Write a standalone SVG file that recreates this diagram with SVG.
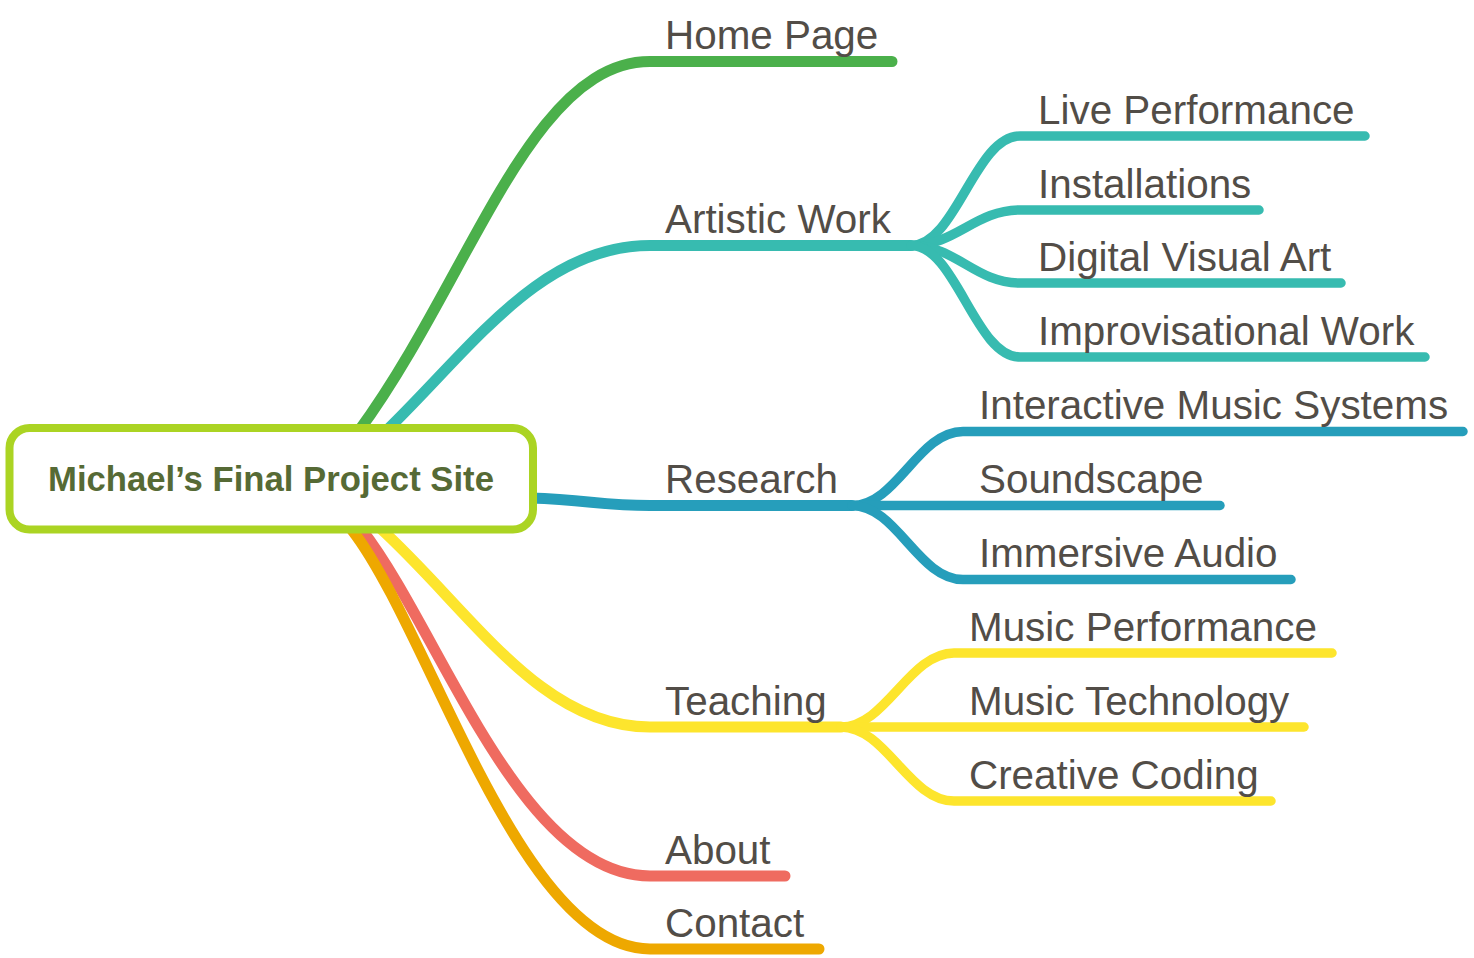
<svg xmlns="http://www.w3.org/2000/svg" width="1474" height="958" viewBox="0 0 1474 958">
<style>
.ln{fill:none;stroke-linecap:round;stroke-linejoin:round}
.main{stroke-width:11}
.sub{stroke-width:9.5}
.g{stroke:#4bb04b}.t{stroke:#37bbb0}.b{stroke:#269ebb}.y{stroke:#fde52d}.r{stroke:#ef6b60}.o{stroke:#eea800}
.lbl{font-family:"Liberation Sans",Arial,sans-serif;font-size:40.4px;fill:#524d47}
.ctr{font-family:"Liberation Sans",Arial,sans-serif;font-size:34.7px;font-weight:bold;fill:#566a35}
</style>
<rect width="1474" height="958" fill="#ffffff"/>
<g id="connectors">
<path class="ln main g" d="M358,432 C470,280 530,61.5 650,61.5 L892,61.5"/>
<path class="ln main t" d="M385,432 C470,350 540,245.5 650,245.5 L911,245.5"/>
<path class="ln main b" d="M530,498 C590,500 600,505.5 650,505.5 L852,505.5"/>
<path class="ln main y" d="M380,528 C470,610 540,727 650,727 L841,727"/>
<path class="ln main r" d="M362,530 C440,630 520,876 650,876 L785,876"/>
<path class="ln main o" d="M352,530 C430,630 520,949 650,949 L819,949"/>
<path class="ln sub t" d="M911,245.5 C956,245.5 975,136 1020,136 L1365,136"/>
<path class="ln sub t" d="M911,245.5 C956,245.5 975,210 1020,210 L1259,210"/>
<path class="ln sub t" d="M911,245.5 C956,245.5 975,283 1020,283 L1341,283"/>
<path class="ln sub t" d="M911,245.5 C956,245.5 975,357 1020,357 L1425,357"/>
<path class="ln sub b" d="M852,505.5 C897,505.5 918,431.5 963,431.5 L1463,431.5"/>
<path class="ln sub b" d="M852,505.5 L1220,505.5"/>
<path class="ln sub b" d="M852,505.5 C897,505.5 918,579.5 963,579.5 L1291,579.5"/>
<path class="ln sub y" d="M841,727 C886,727 909,653 954,653 L1332,653"/>
<path class="ln sub y" d="M841,727 L1304,727"/>
<path class="ln sub y" d="M841,727 C886,727 909,801 954,801 L1271,801"/>
</g>
<g id="root">
<rect x="9.5" y="428" width="523.5" height="101.5" rx="20" ry="20" fill="#ffffff" stroke="#abd423" stroke-width="8"/>
<text class="ctr" x="271" y="491" text-anchor="middle">Michael’s Final Project Site</text>
</g>
<g id="home"><text class="lbl" x="665" y="49">Home Page</text></g>
<g id="artistic"><text class="lbl" x="665" y="233">Artistic Work</text></g>
<g id="research"><text class="lbl" x="665" y="493">Research</text></g>
<g id="teaching"><text class="lbl" x="665" y="714.5">Teaching</text></g>
<g id="about"><text class="lbl" x="665" y="863.5">About</text></g>
<g id="contact"><text class="lbl" x="665" y="936.5">Contact</text></g>
<g id="live"><text class="lbl" x="1038" y="123.5">Live Performance</text></g>
<g id="installations"><text class="lbl" x="1038" y="197.5">Installations</text></g>
<g id="digital"><text class="lbl" x="1038" y="270.5">Digital Visual Art</text></g>
<g id="improv"><text class="lbl" x="1038" y="344.5">Improvisational Work</text></g>
<g id="interactive"><text class="lbl" x="979" y="419">Interactive Music Systems</text></g>
<g id="soundscape"><text class="lbl" x="979" y="493">Soundscape</text></g>
<g id="immersive"><text class="lbl" x="979" y="567">Immersive Audio</text></g>
<g id="musicperf"><text class="lbl" x="969" y="640.5">Music Performance</text></g>
<g id="musictech"><text class="lbl" x="969" y="714.5">Music Technology</text></g>
<g id="coding"><text class="lbl" x="969" y="788.5">Creative Coding</text></g>
</svg>
